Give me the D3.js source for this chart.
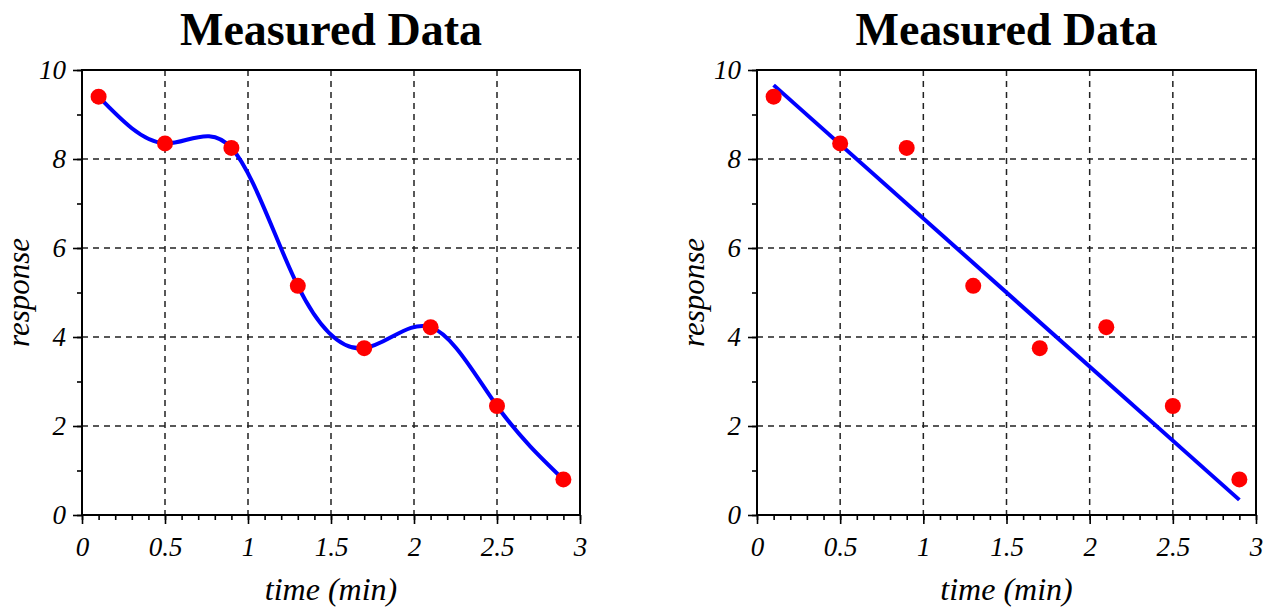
<!DOCTYPE html>
<html>
<head>
<meta charset="utf-8">
<script src="https://cdn.jsdelivr.net/npm/d3@7"></script>
<style>
  body { margin: 0; background: #fff; }
  svg text { font-family: "Liberation Serif", "DejaVu Serif", "Times New Roman", Times, serif; }
</style>
</head>
<body>
<div id="chart"></div>
<script>
// measured points
var times = [0.1, 0.5, 0.9, 1.3, 1.7, 2.1, 2.5, 2.9];
var responses = [9.4, 8.35, 8.25, 5.15, 3.75, 4.22, 2.45, 0.8];
// straight fit line shown on the right panel (endpoints)
var fitTimes = [0.1, 2.9];
var fitResponses = [9.66, 0.34];

var xTicks = [0, 0.5, 1, 1.5, 2, 2.5, 3];
var yTicks = [0, 2, 4, 6, 8, 10];
var xMinor = d3.range(0, 31).map(function(i) { return i / 10; });
var yMinor = d3.range(0, 11);

var titleText = "Measured Data";
var xLabel = "time (min)";
var yLabel = "response";

var W = 1266, H = 610;
var serif = "'Liberation Serif', 'DejaVu Serif', 'Times New Roman', Times, serif";

var svg = d3.select("#chart").append("svg")
    .attr("width", W)
    .attr("height", H)
    .style("font-family", serif);

function panel(left, right, fit) {
    var top = 70, bottom = 515;
    var x = d3.scaleLinear().domain([0, 3]).range([left, right]);
    var y = d3.scaleLinear().domain([0, 10]).range([bottom, top]);

    var g = svg.append("g");

    // dashed grid
    g.selectAll(".vgrid")
        .data(xTicks.filter(function(d) { return d > 0 && d < 3; }))
      .enter().append("line")
        .attr("x1", function(d) { return x(d); })
        .attr("x2", function(d) { return x(d); })
        .attr("y1", top).attr("y2", bottom)
        .attr("stroke", "#222").attr("stroke-width", 1.5)
        .attr("stroke-dasharray", "6,5");
    g.selectAll(".hgrid")
        .data(yTicks.filter(function(d) { return d > 0 && d < 10; }))
      .enter().append("line")
        .attr("y1", function(d) { return y(d); })
        .attr("y2", function(d) { return y(d); })
        .attr("x1", left).attr("x2", right)
        .attr("stroke", "#222").attr("stroke-width", 1.5)
        .attr("stroke-dasharray", "6,5");

    // minor ticks
    g.append("g")
        .attr("transform", "translate(0," + bottom + ")")
        .call(d3.axisBottom(x).tickValues(xMinor).tickSize(5).tickSizeOuter(0).tickFormat(""))
        .call(function(s) { s.select(".domain").remove(); })
        .selectAll("line").attr("stroke-width", 1.6);
    g.append("g")
        .attr("transform", "translate(" + left + ",0)")
        .call(d3.axisLeft(y).tickValues(yMinor).tickSize(5).tickSizeOuter(0).tickFormat(""))
        .call(function(s) { s.select(".domain").remove(); })
        .selectAll("line").attr("stroke-width", 1.6);

    // major ticks and labels
    var xa = g.append("g")
        .attr("transform", "translate(0," + bottom + ")")
        .call(d3.axisBottom(x).tickValues(xTicks).tickSize(9).tickSizeOuter(0).tickPadding(13).tickFormat(d3.format("")));
    xa.select(".domain").remove();
    xa.selectAll("line").attr("stroke-width", 1.6);
    xa.selectAll("text")
        .attr("font-size", 27).attr("font-style", "italic")
        .attr("font-family", serif).attr("fill", "#000");

    var ya = g.append("g")
        .attr("transform", "translate(" + left + ",0)")
        .call(d3.axisLeft(y).tickValues(yTicks).tickSize(9).tickSizeOuter(0).tickPadding(7).tickFormat(d3.format("")));
    ya.select(".domain").remove();
    ya.selectAll("line").attr("stroke-width", 1.6);
    ya.selectAll("text")
        .attr("font-size", 27).attr("font-style", "italic")
        .attr("font-family", serif).attr("fill", "#000");

    // frame
    g.append("rect")
        .attr("x", left).attr("y", top)
        .attr("width", right - left).attr("height", bottom - top)
        .attr("fill", "none").attr("stroke", "#000").attr("stroke-width", 2);

    // curve / fit
    var line = d3.line().x(function(d) { return x(d[0]); }).y(function(d) { return y(d[1]); });
    if (fit) {
        g.append("path")
            .datum(d3.zip(fitTimes, fitResponses))
            .attr("d", line)
            .attr("fill", "none").attr("stroke", "#0000ff").attr("stroke-width", 4);
    } else {
        g.append("path")
            .datum(d3.zip(times, responses))
            .attr("d", line.curve(d3.curveNatural))
            .attr("fill", "none").attr("stroke", "#0000ff").attr("stroke-width", 4);
    }

    // points
    g.selectAll(".pt")
        .data(d3.zip(times, responses))
      .enter().append("circle")
        .attr("cx", function(d) { return x(d[0]); })
        .attr("cy", function(d) { return y(d[1]); })
        .attr("r", 8)
        .attr("fill", "#ff0000");

    // titles
    var cx = (left + right) / 2;
    g.append("text")
        .attr("x", cx).attr("y", 45)
        .attr("text-anchor", "middle")
        .attr("font-size", 46).attr("font-weight", "bold")
        .attr("font-family", serif)
        .text(titleText);
    g.append("text")
        .attr("x", cx).attr("y", 600)
        .attr("text-anchor", "middle")
        .attr("font-size", 32).attr("font-style", "italic")
        .attr("font-family", serif)
        .text(xLabel);
    g.append("text")
        .attr("transform", "translate(" + (left - 53) + "," + ((top + bottom) / 2) + ") rotate(-90)")
        .attr("text-anchor", "middle")
        .attr("font-size", 31).attr("font-style", "italic")
        .attr("font-family", serif)
        .text(yLabel);
}

panel(82, 580, false);
panel(757, 1256, true);
</script>
</body>
</html>
